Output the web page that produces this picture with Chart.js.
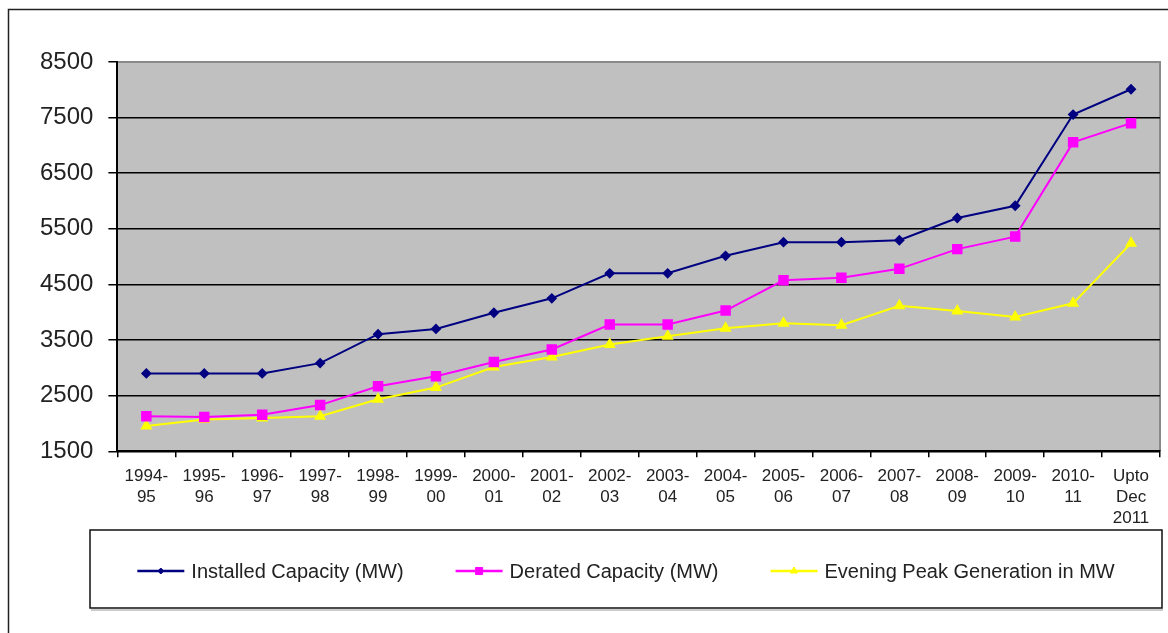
<!DOCTYPE html>
<html>
<head>
<meta charset="utf-8">
<script src="https://cdn.jsdelivr.net/npm/chart.js@4.4.0/dist/chart.umd.min.js"></script>
<style>
  html, body { margin: 0; padding: 0; background: #fff; }
</style>
</head>
<body>
<canvas id="capacityChart" width="1168" height="633"></canvas>
<script>
// values (MW)
const years = [
  ["1994-", "95"], ["1995-", "96"], ["1996-", "97"], ["1997-", "98"],
  ["1998-", "99"], ["1999-", "00"], ["2000-", "01"], ["2001-", "02"],
  ["2002-", "03"], ["2003-", "04"], ["2004-", "05"], ["2005-", "06"],
  ["2006-", "07"], ["2007-", "08"], ["2008-", "09"], ["2009-", "10"],
  ["2010-", "11"], ["Upto", "Dec", "2011"]
];
const installed = [2900, 2900, 2900, 3085, 3605, 3700, 3990, 4250, 4700, 4700, 5015, 5260, 5260, 5295, 5695, 5915, 7555, 8010];
const derated   = [2130, 2115, 2155, 2330, 2670, 2850, 3105, 3330, 3780, 3780, 4030, 4575, 4620, 4780, 5135, 5360, 7055, 7400];
const evening   = [1955, 2070, 2100, 2130, 2435, 2645, 3015, 3195, 3420, 3570, 3710, 3800, 3765, 4115, 4020, 3915, 4160, 5240];
const yTicks = [1500, 2500, 3500, 4500, 5500, 6500, 7500, 8500];

const font = "Arial, 'Liberation Sans', sans-serif";
const textColor = "#222";

const ctx = document.getElementById("capacityChart").getContext("2d");

const framePlugin = {
  id: "framePlugin",
  beforeDraw(chart) {
    const { ctx, chartArea: a } = chart;
    ctx.save();
    ctx.fillStyle = "#c0c0c0";
    ctx.fillRect(a.left, a.top, a.right - a.left, a.bottom - a.top);
    ctx.strokeStyle = "#8a8a8a";
    ctx.lineWidth = 2;
    ctx.beginPath();
    ctx.moveTo(a.left, a.top);
    ctx.lineTo(a.right, a.top);
    ctx.lineTo(a.right, a.bottom);
    ctx.stroke();
    ctx.restore();
  },
  afterDraw(chart) {
    const c = chart.ctx;
    c.save();
    // outer frame (only left and top visible in the crop)
    c.strokeStyle = "#222";
    c.lineWidth = 1.5;
    c.beginPath();
    c.moveTo(8.5, 640);
    c.lineTo(8.5, 9.5);
    c.lineTo(1175, 9.5);
    c.stroke();

    // legend box
    const box = { left: 90, top: 530, right: 1162, bottom: 608 };
    c.lineWidth = 1.5;
    c.strokeStyle = "#111";
    c.strokeRect(box.left, box.top, box.right - box.left, box.bottom - box.top);
    c.strokeStyle = "#999";
    c.lineWidth = 1;
    c.beginPath();
    c.moveTo(box.left + 1, box.bottom + 2);
    c.lineTo(box.right + 1, box.bottom + 2);
    c.stroke();

    c.font = "20px " + font;
    c.textBaseline = "middle";
    c.fillStyle = textColor;
    const seg = 47, gapText = 7, gapItem = 52;
    const sets = chart.data.datasets;
    let total = 0;
    sets.forEach((ds, i) => {
      total += seg + gapText + c.measureText(ds.label).width;
      if (i < sets.length - 1) total += gapItem;
    });
    let x = (box.left + box.right) / 2 - total / 2;
    const y = 571;
    sets.forEach(ds => {
      c.strokeStyle = ds.borderColor;
      c.lineWidth = 2.5;
      c.beginPath();
      c.moveTo(x, y);
      c.lineTo(x + seg, y);
      c.stroke();
      c.fillStyle = ds.pointBackgroundColor;
      c.strokeStyle = ds.pointBorderColor;
      c.lineWidth = 1;
      Chart.helpers.drawPoint(c, { pointStyle: ds.pointStyle, radius: ds.pointRadius - 1, rotation: 0, borderWidth: 1 }, x + seg / 2, y);
      c.fillStyle = textColor;
      c.fillText(ds.label, x + seg + gapText, y + 1);
      x += seg + gapText + c.measureText(ds.label).width + gapItem;
    });
    c.restore();
  }
};

new Chart(ctx, {
  type: "line",
  data: {
    labels: years,
    datasets: [
      {
        label: "Installed Capacity (MW)",
        data: installed,
        borderColor: "#000080",
        backgroundColor: "#000080",
        pointBackgroundColor: "#000080",
        pointBorderColor: "#000080",
        pointStyle: "rectRot",
        pointRadius: 4,
        borderWidth: 2,
        tension: 0
      },
      {
        label: "Derated Capacity (MW)",
        data: derated,
        borderColor: "#ff00ff",
        backgroundColor: "#ff00ff",
        pointBackgroundColor: "#ff00ff",
        pointBorderColor: "#ff00ff",
        pointStyle: "rect",
        pointRadius: 6,
        borderWidth: 2,
        tension: 0
      },
      {
        label: "Evening Peak Generation in MW",
        data: evening,
        borderColor: "#ffff00",
        backgroundColor: "#ffff00",
        pointBackgroundColor: "#ffff00",
        pointBorderColor: "#ffff00",
        pointStyle: "triangle",
        pointRadius: 5,
        borderWidth: 2,
        tension: 0
      }
    ]
  },
  options: {
    responsive: false,
    animation: false,
    devicePixelRatio: 1,
    layout: {
      padding: { left: 25, top: 62, right: 7, bottom: 96 }
    },
    plugins: {
      legend: { display: false },
      tooltip: { enabled: false }
    },
    scales: {
      x: {
        type: "category",
        offset: true,
        grid: {
          offset: true,
          drawOnChartArea: false,
          drawTicks: true,
          tickLength: 6,
          color: "#000",
          lineWidth: 1.5
        },
        border: { display: true, color: "#000", width: 2 },
        ticks: {
          color: textColor,
          font: { family: font, size: 17, lineHeight: 1.25 },
          padding: 8,
          maxRotation: 0,
          autoSkip: false
        }
      },
      y: {
        min: 1500,
        max: 8500,
        afterBuildTicks(scale) {
          scale.ticks = yTicks.map(v => ({ value: v }));
        },
        grid: {
          color: c => (c.tick && c.tick.value === 8500 ? "rgba(0,0,0,0)" : "#000"),
          tickColor: "#000",
          lineWidth: 1.5,
          tickLength: 9
        },
        border: { display: true, color: "#000", width: 2 },
        ticks: {
          color: textColor,
          font: { family: font, size: 24 },
          padding: 15,
          callback: v => String(v)
        }
      }
    }
  },
  plugins: [framePlugin]
});
</script>
</body>
</html>
